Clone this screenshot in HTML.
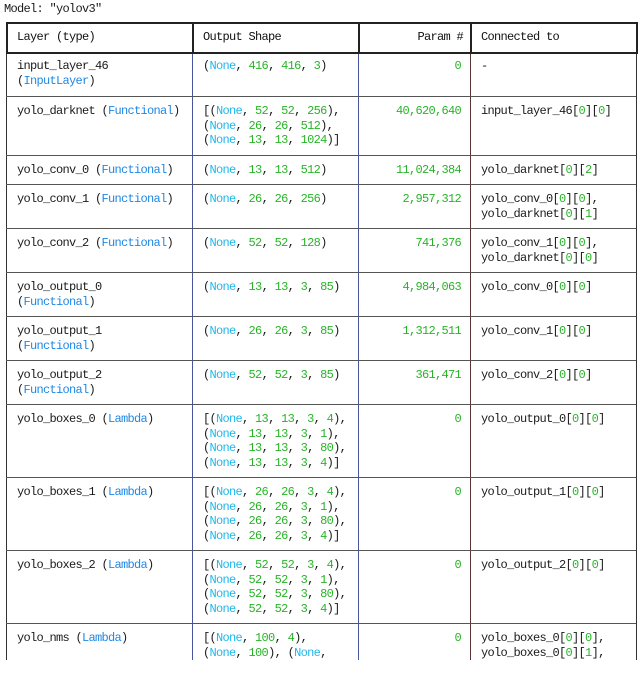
<!DOCTYPE html>
<html><head><meta charset="utf-8"><style>
body{margin:0;background:#fff;width:642px;height:660px;overflow:hidden;position:relative;font-family:"Liberation Mono","DejaVu Sans Mono",monospace;font-size:12px;letter-spacing:-0.7px;color:#1a1a1a;}
.t{position:absolute;left:4px;top:2px;line-height:14px;}
.row{position:absolute;left:6px;width:630px;border-bottom:1px solid #555;}
.c{position:absolute;top:7px;line-height:14.6px;white-space:pre;}
.c1{left:11px}.c2{left:197px}.c3{right:175px;text-align:right}.c4{left:475px}
.vl{position:absolute;top:22px;width:1px;height:638px;}
.n{color:#1fb7ea}.g{color:#28b428}.f{color:#1e88e5}
.hd{position:absolute;left:6px;top:22px;width:628px;height:28px;border:2px solid #222;}
.hd .c{top:6px;color:#111}
</style></head><body>
<div class="t">Model: "yolov3"</div>
<div class="vl" style="left:6px;background:#333"></div>
<div class="vl" style="left:192px;background:#4a55a0"></div>
<div class="vl" style="left:358px;background:#4a55a0"></div>
<div class="vl" style="left:470px;background:#5a3535"></div>
<div class="vl" style="left:636px;background:#333"></div>
<div class="hd">
<div class="c" style="left:9px">Layer (type)</div>
<div class="c" style="left:195px">Output Shape</div>
<div class="c" style="right:173px">Param #</div>
<div class="c" style="left:473px">Connected to</div>
<div style="position:absolute;left:184px;top:0;width:2px;height:28px;background:#222"></div>
<div style="position:absolute;left:350px;top:0;width:2px;height:28px;background:#222"></div>
<div style="position:absolute;left:462px;top:0;width:2px;height:28px;background:#222"></div>
</div>

<div class="row" style="top:52px;height:44px">
<div class="c c1">input_layer_46
(<span class="f">InputLayer</span>)</div>
<div class="c c2">(<span class="n">None</span>, <span class="g">416</span>, <span class="g">416</span>, <span class="g">3</span>)</div>
<div class="c c3"><span class="g">0</span></div>
<div class="c c4">-</div>
</div>

<div class="row" style="top:97px;height:58px">
<div class="c c1">yolo_darknet (<span class="f">Functional</span>)</div>
<div class="c c2">[(<span class="n">None</span>, <span class="g">52</span>, <span class="g">52</span>, <span class="g">256</span>),
(<span class="n">None</span>, <span class="g">26</span>, <span class="g">26</span>, <span class="g">512</span>),
(<span class="n">None</span>, <span class="g">13</span>, <span class="g">13</span>, <span class="g">1024</span>)]</div>
<div class="c c3"><span class="g">40,620,640</span></div>
<div class="c c4">input_layer_46[<span class="g">0</span>][<span class="g">0</span>]</div>
</div>

<div class="row" style="top:156px;height:28px">
<div class="c c1">yolo_conv_0 (<span class="f">Functional</span>)</div>
<div class="c c2">(<span class="n">None</span>, <span class="g">13</span>, <span class="g">13</span>, <span class="g">512</span>)</div>
<div class="c c3"><span class="g">11,024,384</span></div>
<div class="c c4">yolo_darknet[<span class="g">0</span>][<span class="g">2</span>]</div>
</div>

<div class="row" style="top:185px;height:43px">
<div class="c c1">yolo_conv_1 (<span class="f">Functional</span>)</div>
<div class="c c2">(<span class="n">None</span>, <span class="g">26</span>, <span class="g">26</span>, <span class="g">256</span>)</div>
<div class="c c3"><span class="g">2,957,312</span></div>
<div class="c c4">yolo_conv_0[<span class="g">0</span>][<span class="g">0</span>],
yolo_darknet[<span class="g">0</span>][<span class="g">1</span>]</div>
</div>

<div class="row" style="top:229px;height:43px">
<div class="c c1">yolo_conv_2 (<span class="f">Functional</span>)</div>
<div class="c c2">(<span class="n">None</span>, <span class="g">52</span>, <span class="g">52</span>, <span class="g">128</span>)</div>
<div class="c c3"><span class="g">741,376</span></div>
<div class="c c4">yolo_conv_1[<span class="g">0</span>][<span class="g">0</span>],
yolo_darknet[<span class="g">0</span>][<span class="g">0</span>]</div>
</div>

<div class="row" style="top:273px;height:43px">
<div class="c c1">yolo_output_0
(<span class="f">Functional</span>)</div>
<div class="c c2">(<span class="n">None</span>, <span class="g">13</span>, <span class="g">13</span>, <span class="g">3</span>, <span class="g">85</span>)</div>
<div class="c c3"><span class="g">4,984,063</span></div>
<div class="c c4">yolo_conv_0[<span class="g">0</span>][<span class="g">0</span>]</div>
</div>

<div class="row" style="top:317px;height:43px">
<div class="c c1">yolo_output_1
(<span class="f">Functional</span>)</div>
<div class="c c2">(<span class="n">None</span>, <span class="g">26</span>, <span class="g">26</span>, <span class="g">3</span>, <span class="g">85</span>)</div>
<div class="c c3"><span class="g">1,312,511</span></div>
<div class="c c4">yolo_conv_1[<span class="g">0</span>][<span class="g">0</span>]</div>
</div>

<div class="row" style="top:361px;height:43px">
<div class="c c1">yolo_output_2
(<span class="f">Functional</span>)</div>
<div class="c c2">(<span class="n">None</span>, <span class="g">52</span>, <span class="g">52</span>, <span class="g">3</span>, <span class="g">85</span>)</div>
<div class="c c3"><span class="g">361,471</span></div>
<div class="c c4">yolo_conv_2[<span class="g">0</span>][<span class="g">0</span>]</div>
</div>

<div class="row" style="top:405px;height:72px">
<div class="c c1">yolo_boxes_0 (<span class="f">Lambda</span>)</div>
<div class="c c2">[(<span class="n">None</span>, <span class="g">13</span>, <span class="g">13</span>, <span class="g">3</span>, <span class="g">4</span>),
(<span class="n">None</span>, <span class="g">13</span>, <span class="g">13</span>, <span class="g">3</span>, <span class="g">1</span>),
(<span class="n">None</span>, <span class="g">13</span>, <span class="g">13</span>, <span class="g">3</span>, <span class="g">80</span>),
(<span class="n">None</span>, <span class="g">13</span>, <span class="g">13</span>, <span class="g">3</span>, <span class="g">4</span>)]</div>
<div class="c c3"><span class="g">0</span></div>
<div class="c c4">yolo_output_0[<span class="g">0</span>][<span class="g">0</span>]</div>
</div>

<div class="row" style="top:478px;height:72px">
<div class="c c1">yolo_boxes_1 (<span class="f">Lambda</span>)</div>
<div class="c c2">[(<span class="n">None</span>, <span class="g">26</span>, <span class="g">26</span>, <span class="g">3</span>, <span class="g">4</span>),
(<span class="n">None</span>, <span class="g">26</span>, <span class="g">26</span>, <span class="g">3</span>, <span class="g">1</span>),
(<span class="n">None</span>, <span class="g">26</span>, <span class="g">26</span>, <span class="g">3</span>, <span class="g">80</span>),
(<span class="n">None</span>, <span class="g">26</span>, <span class="g">26</span>, <span class="g">3</span>, <span class="g">4</span>)]</div>
<div class="c c3"><span class="g">0</span></div>
<div class="c c4">yolo_output_1[<span class="g">0</span>][<span class="g">0</span>]</div>
</div>

<div class="row" style="top:551px;height:72px">
<div class="c c1">yolo_boxes_2 (<span class="f">Lambda</span>)</div>
<div class="c c2">[(<span class="n">None</span>, <span class="g">52</span>, <span class="g">52</span>, <span class="g">3</span>, <span class="g">4</span>),
(<span class="n">None</span>, <span class="g">52</span>, <span class="g">52</span>, <span class="g">3</span>, <span class="g">1</span>),
(<span class="n">None</span>, <span class="g">52</span>, <span class="g">52</span>, <span class="g">3</span>, <span class="g">80</span>),
(<span class="n">None</span>, <span class="g">52</span>, <span class="g">52</span>, <span class="g">3</span>, <span class="g">4</span>)]</div>
<div class="c c3"><span class="g">0</span></div>
<div class="c c4">yolo_output_2[<span class="g">0</span>][<span class="g">0</span>]</div>
</div>

<div class="row" style="top:624px;height:72px;border-bottom:none">
<div class="c c1">yolo_nms (<span class="f">Lambda</span>)</div>
<div class="c c2">[(<span class="n">None</span>, <span class="g">100</span>, <span class="g">4</span>),
(<span class="n">None</span>, <span class="g">100</span>), (<span class="n">None</span>,</div>
<div class="c c3"><span class="g">0</span></div>
<div class="c c4">yolo_boxes_0[<span class="g">0</span>][<span class="g">0</span>],
yolo_boxes_0[<span class="g">0</span>][<span class="g">1</span>],</div>
</div>
</body></html>
